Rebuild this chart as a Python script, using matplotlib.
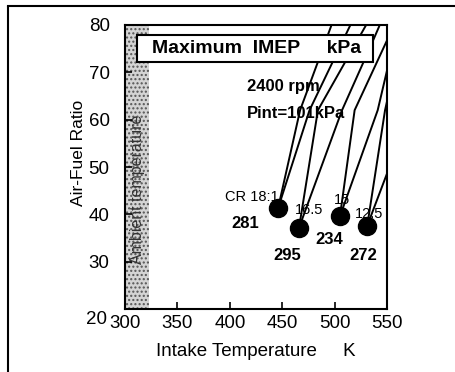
import matplotlib
matplotlib.use('Agg')
import matplotlib.pyplot as plt
import matplotlib.transforms as mtransforms
from matplotlib.lines import Line2D
from matplotlib.patches import Rectangle

plt.rcParams['font.family'] = ['Liberation Sans', 'DejaVu Sans']

# optimum points (max IMEP) for each compression ratio
cr_labels = ['CR 18:1', '16.5', '15', '12.5']
temp_opt = [446, 466, 505, 531]
afr_opt = [41.3, 37.2, 39.6, 37.6]
imep_max = ['281', '295', '234', '272']

# label positions
cr_label_x = [421, 476, 507, 533]
cr_label_y = [43.7, 40.9, 43.0, 40.1]
imep_label_x = [415, 455, 495, 527]
imep_label_y = [38.0, 31.4, 34.8, 31.4]

# boundary curves running up from each optimum
curve_x = [[446, 467, 497], [446, 476, 515],
           [466, 484, 530], [466, 507, 534, 543],
           [505, 519, 550], [505, 541, 550],
           [531, 548, 552], [531, 550]]
curve_y = [[41.3, 62, 80], [41.3, 62, 80],
           [37.2, 62, 80], [37.2, 62, 75.4, 80],
           [39.6, 62, 76.8], [39.6, 62, 70.5],
           [37.6, 62, 66], [37.6, 48.7]]

ambient = (300, 323)

fig = plt.figure(figsize=(4.56, 3.72), dpi=100)
ax = fig.add_axes([0.274, 0.169, 0.575, 0.764])

# ambient band
ax.axvspan(ambient[0], ambient[1], facecolor='#d4d4d4', edgecolor='#555555',
           hatch='....', linewidth=0, zorder=1)
ax.text(sum(ambient) / 2, 45.2, 'Ambient temperature', rotation=90,
        ha='center', va='center', fontsize=11.5, color='#333333', zorder=2)

for xs, ys in zip(curve_x, curve_y):
    ax.plot(xs, ys, color='black', lw=1.4, zorder=3)

ax.plot(temp_opt, afr_opt, 'o', color='black', markersize=13, zorder=4)

for k in range(len(cr_labels)):
    ax.text(cr_label_x[k], cr_label_y[k], cr_labels[k], ha='center',
            va='center', fontsize=10.5, zorder=5)
    ax.text(imep_label_x[k], imep_label_y[k], imep_max[k], ha='center',
            va='center', fontsize=12, fontweight='bold', zorder=5)

ax.text(416, 66.9, '2400 rpm', ha='left', va='center', fontsize=12,
        fontweight='bold', zorder=5)
ax.text(416, 61.2, 'Pint=101kPa', ha='left', va='center', fontsize=12,
        fontweight='bold', zorder=5)

# title box
box = Rectangle((0.046, 0.870), 0.901, 0.095, transform=ax.transAxes,
                facecolor='white', edgecolor='black', lw=1.5, zorder=6)
ax.add_patch(box)
ax.text(0.05 + 0.901 / 2, 0.917, 'Maximum  IMEP     kPa', transform=ax.transAxes,
        ha='center', va='center', fontsize=14, fontweight='bold', zorder=7)

ax.set_xlim(300, 550)
ax.set_ylim(20, 80)
ax.set_xticks([300, 350, 400, 450, 500, 550])
ax.set_yticks([20, 30, 40, 50, 60, 70, 80])
ax.tick_params(direction='in', length=5, width=1.2, labelsize=13.5)
ax.tick_params(axis='x', pad=4)
ax.tick_params(axis='y', pad=11)
for s in ax.spines.values():
    s.set_linewidth(1.5)

# the "20" sits lower-left of its tick in the original
fig.canvas.draw()
lab20 = ax.get_yticklabels()[0]
lab20.set_transform(lab20.get_transform() +
                    mtransforms.ScaledTranslation(-2 / 72, -6 / 72, fig.dpi_scale_trans))

ax.set_xlabel('Intake Temperature     K', fontsize=13.5, labelpad=8)
ax.set_ylabel('Air-Fuel Ratio', fontsize=12.5)
ax.yaxis.set_label_coords(-0.15, 0.55)

# scan frame
fig.add_artist(Line2D([8 / 456, 8 / 456], [0, 1 - 7 / 372], color='black', lw=1.5))
fig.add_artist(Line2D([8 / 456, 1], [1 - 6 / 372, 1 - 6 / 372], color='black', lw=1.5))

fig.savefig('out.png', dpi=100)
